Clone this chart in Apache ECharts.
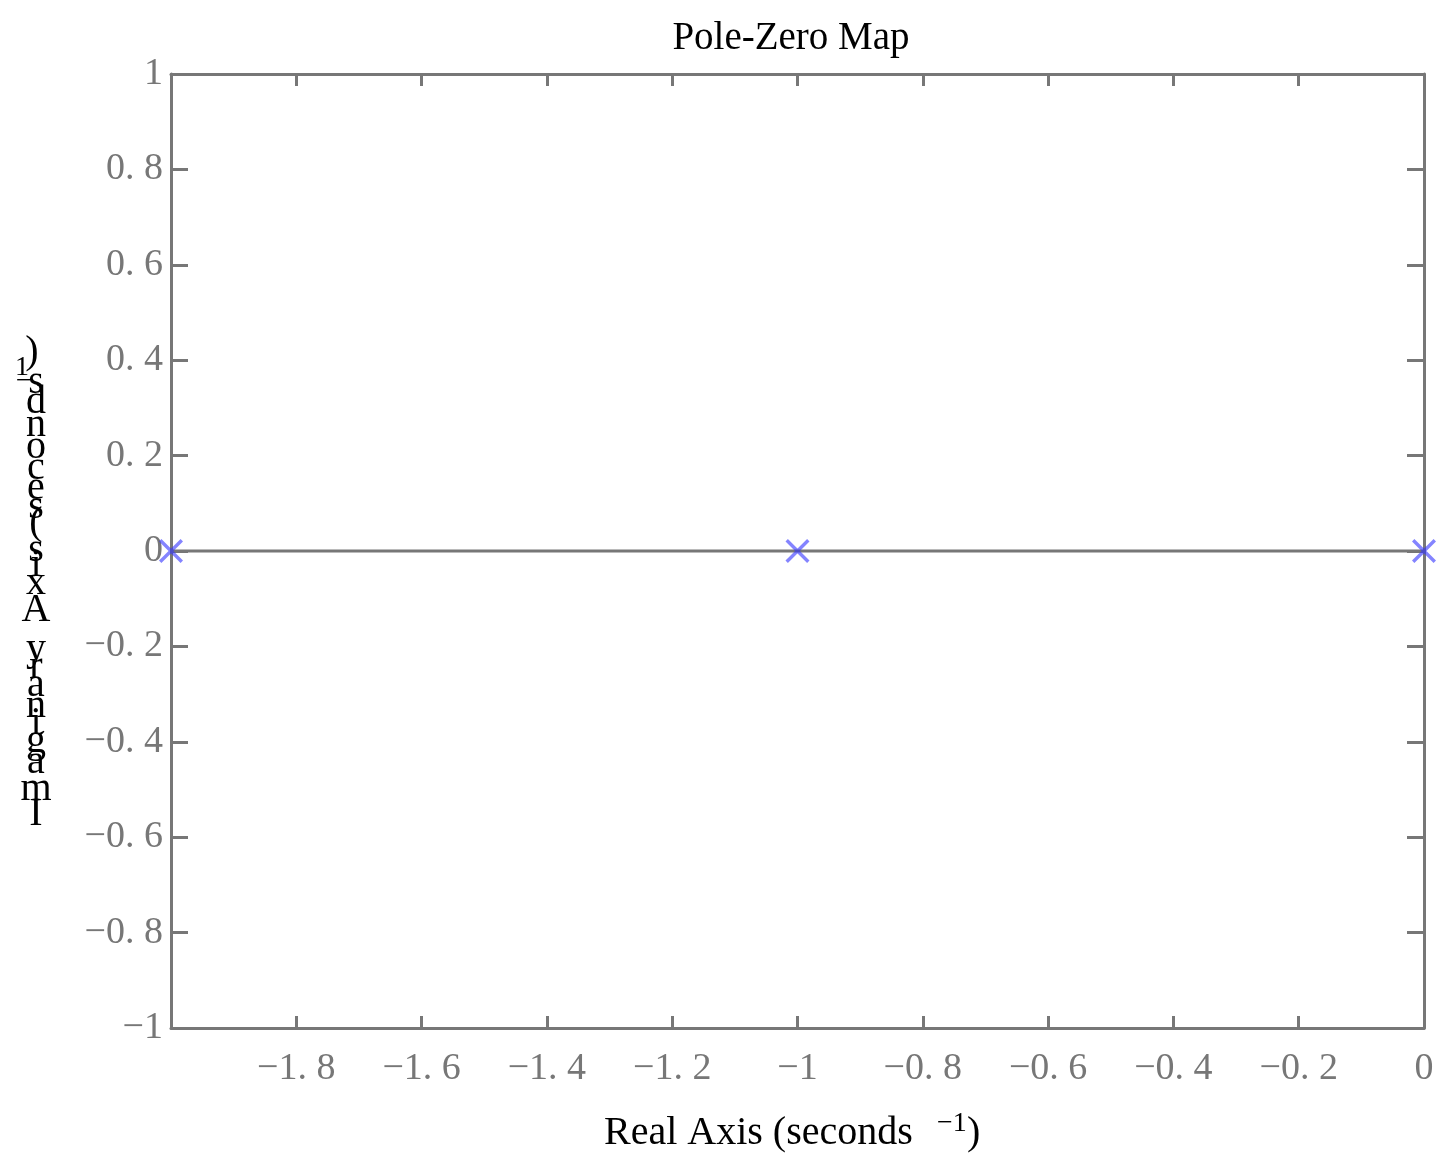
<!DOCTYPE html>
<html>
<head>
<meta charset="utf-8">
<script src="https://cdn.jsdelivr.net/npm/echarts@6/dist/echarts.min.js"></script>
<style>html,body{margin:0;padding:0;background:#fff}#c{width:1442px;height:1160px}</style>
</head>
<body>
<div id="c"></div>
<script>
var titleText = 'Pole-Zero Map';
var xAxisName = 'Real Axis (seconds';
var yAxisName = 'Imaginary Axis (seconds';
var unitSup = '\u22121';
var poleReal = [-2, -1, 0];
var poleImag = [0, 0, 0];
var zeroLineX = [-2, 0];
var zeroLineY = [0, 0];
var xMin = -2, xMax = 0, xStep = 0.2;
var yMin = -1, yMax = 1, yStep = 0.2;

var GRID = {left: 171, top: 74, width: 1253, height: 954};
var AXC = '#777777';
var serif = '"Liberation Serif", "Times New Roman", serif';

function fmt(v) {
  var r = Math.round(v * 10) / 10;
  if (Math.abs(r) < 1e-9) return '0';
  var s = (Math.abs(r) % 1 === 0) ? String(Math.abs(r)) : Math.abs(r).toFixed(1).replace('.', '. ');
  return (r < 0 ? '\u2212' : '') + s;
}

var chart = echarts.init(document.getElementById('c'), null, {renderer: 'canvas'});

// vertically stacked y-axis name (each glyph upright, advancing by its width, bottom-to-top)
var ctx = document.createElement('canvas').getContext('2d');
var YF = 40, ADV = 1.12;
ctx.font = YF + 'px ' + serif;
var yChars = [];
var fullY = yAxisName;
var yPos = 822;
for (var i = 0; i < fullY.length; i++) {
  var ch = fullY[i];
  var w = ctx.measureText(ch).width * ADV;
  yChars.push({type: 'text', x: 36, y: yPos - w / 2, style: {text: ch, font: YF + 'px ' + serif, fill: '#000', align: 'center', verticalAlign: 'middle'}});
  yPos -= w;
}
yChars.push({type: 'text', x: 24, y: yPos + 8, style: {text: '\u2212', font: '28px ' + serif, fill: '#000', align: 'center', verticalAlign: 'middle'}});
yChars.push({type: 'text', x: 22, y: yPos - 6, style: {text: '1', font: '28px ' + serif, fill: '#000', align: 'center', verticalAlign: 'middle'}});
yChars.push({type: 'text', x: 32, y: yPos - 22, style: {text: ')', font: YF + 'px ' + serif, fill: '#000', align: 'center', verticalAlign: 'middle'}});

var option = {
  backgroundColor: '#fff',
  animation: false,
  title: {
    text: titleText, left: 786, top: 14, textAlign: 'center',
    textStyle: {fontFamily: serif, fontSize: 39, fontWeight: 'normal', color: '#000'}
  },
  grid: GRID,
  xAxis: [{
    type: 'value', min: xMin, max: xMax, interval: xStep, position: 'bottom',
    axisLine: {show: true, onZero: false, lineStyle: {color: AXC, width: 3}},
    axisTick: {show: true, inside: true, length: 12, lineStyle: {color: AXC, width: 3}},
    splitLine: {show: false},
    axisLabel: {showMinLabel: false, margin: 22, color: '#777', fontFamily: serif, fontSize: 38,
      formatter: function (v) { return Math.abs(v - xMin) < 1e-9 ? '' : fmt(v); }}
  }, {
    type: 'value', min: xMin, max: xMax, interval: xStep, position: 'top',
    axisLine: {show: true, onZero: false, lineStyle: {color: AXC, width: 3}},
    axisTick: {show: true, inside: true, length: 12, lineStyle: {color: AXC, width: 3}},
    splitLine: {show: false}, axisLabel: {show: false}
  }],
  yAxis: [{
    type: 'value', min: yMin, max: yMax, interval: yStep, position: 'left',
    axisLine: {show: true, onZero: false, lineStyle: {color: AXC, width: 3}},
    axisTick: {show: true, inside: true, length: 17, lineStyle: {color: AXC, width: 3}},
    splitLine: {show: false},
    axisLabel: {margin: 8, color: '#777', fontFamily: serif, fontSize: 38, formatter: fmt}
  }, {
    type: 'value', min: yMin, max: yMax, interval: yStep, position: 'right',
    axisLine: {show: true, onZero: false, lineStyle: {color: AXC, width: 3}},
    axisTick: {show: true, inside: true, length: 17, lineStyle: {color: AXC, width: 3}},
    splitLine: {show: false}, axisLabel: {show: false}
  }],
  series: [{
    type: 'line', xAxisIndex: 0, yAxisIndex: 0, symbol: 'none', silent: true,
    lineStyle: {color: AXC, width: 3},
    data: zeroLineX.map(function (x, i) { return [x, zeroLineY[i]]; }),
    z: 2
  }, {
    type: 'scatter', xAxisIndex: 0, yAxisIndex: 0,
    symbol: 'path://M0,1L1,0L10,9L9,10ZM9,0L10,1L1,10L0,9Z',
    symbolSize: 24,
    itemStyle: {color: 'rgba(50,50,255,0.75)'},
    data: poleReal.map(function (x, i) { return [x, poleImag[i]]; }),
    z: 5
  }],
  graphic: [{
    type: 'text', left: 604, top: 1113,
    style: {text: xAxisName, font: '40px ' + serif, fill: '#000'}
  }, {
    type: 'text', left: 937, top: 1110,
    style: {text: unitSup, font: '28px ' + serif, fill: '#000'}
  }, {
    type: 'text', left: 967, top: 1113,
    style: {text: ')', font: '40px ' + serif, fill: '#000'}
  }].concat(yChars)
};
chart.setOption(option);
</script>
</body>
</html>
